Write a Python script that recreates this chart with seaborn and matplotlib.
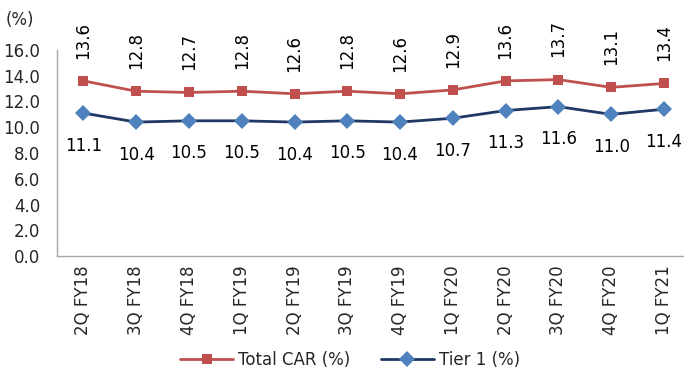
import matplotlib
matplotlib.use("Agg")
import matplotlib.pyplot as plt
import seaborn as sns
import numpy as np

# Data
quarters = ["2Q FY18", "3Q FY18", "4Q FY18", "1Q FY19", "2Q FY19", "3Q FY19",
            "4Q FY19", "1Q FY20", "2Q FY20", "3Q FY20", "4Q FY20", "1Q FY21"]
total_car = [13.6, 12.8, 12.7, 12.8, 12.6, 12.8, 12.6, 12.9, 13.6, 13.7, 13.1, 13.4]
tier1 = [11.1, 10.4, 10.5, 10.5, 10.4, 10.5, 10.4, 10.7, 11.3, 11.6, 11.0, 11.4]

sns.set_style("white")
plt.rcParams["font.family"] = ["DejaVu Sans"]

fig = plt.figure(figsize=(6.84, 3.73), dpi=100)
ax = fig.add_axes([57 / 684, 1 - 256 / 373, 1 - 57 / 684, 206 / 373])

x = np.arange(len(quarters))
red = "#c0504d"
navy = "#1f3864"
blue = "#4f81bd"
fs = 12

sns.lineplot(x=x, y=total_car, ax=ax, color=red, linewidth=2, marker="s",
             markersize=6.5, markeredgewidth=0, label="Total CAR (%)")
sns.lineplot(x=x, y=tier1, ax=ax, color=navy, linewidth=2, marker="D",
             markersize=8, markerfacecolor=blue, markeredgewidth=0, label="Tier 1 (%)")

# Data labels
for xi, v in zip(x, total_car):
    ax.annotate(f"{v:.1f}", xy=(xi, v), xytext=(0, 16), textcoords="offset points",
                ha="center", va="bottom", rotation=90, fontsize=fs, color="#000000")
for xi, v in zip(x, tier1):
    ax.annotate(f"{v:.1f}", xy=(xi, v), xytext=(0, -17), textcoords="offset points",
                ha="center", va="top", fontsize=fs, color="#000000")

ax.set_ylim(0, 16)
ax.set_xlim(-0.5, 11.38)
ax.set_yticks(np.arange(0, 16.1, 2))
ax.set_yticklabels([f"{t:.1f}" for t in np.arange(0, 16.1, 2)], fontsize=fs)
ax.set_xticks(x)
ax.set_xticklabels(quarters, rotation=90, fontsize=fs)
ax.tick_params(axis="y", length=0, pad=12)
ax.tick_params(axis="x", length=0, pad=7)

for side in ["top", "right"]:
    ax.spines[side].set_visible(False)
for side in ["left", "bottom"]:
    ax.spines[side].set_color("#a6a6a6")
    ax.spines[side].set_linewidth(1)

fig.text(20 / 684, 1 - 20 / 373, "(%)", ha="center", va="center", fontsize=fs)

ax.legend(loc="center", bbox_to_anchor=(350 / 684, 1 - 360 / 373),
          bbox_transform=fig.transFigure, ncol=2, frameon=False, fontsize=fs,
          handlelength=3.2, handletextpad=0.3, columnspacing=1.8)

fig.savefig("out.png", dpi=100, facecolor="white")
